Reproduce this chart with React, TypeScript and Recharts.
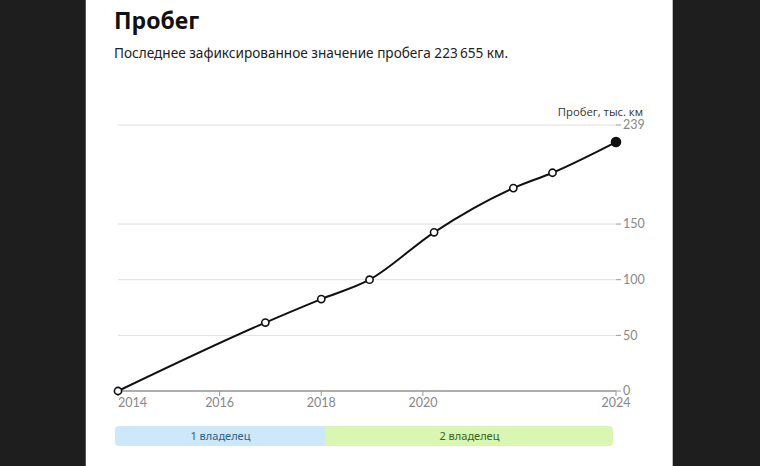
import { LineChart, Line, XAxis, YAxis, CartesianGrid, ReferenceArea, Rectangle } from "recharts";

// mileage history, thousand km, by (fractional) year
const years = [2014.0, 2016.9, 2018.0, 2018.95, 2020.22, 2021.78, 2022.55, 2023.8];
const mileage = [0, 61.5, 82.6, 100, 142.6, 182.3, 196.1, 223.7];

const xTicks = [2014, 2016, 2018, 2020, 2023.8];
const xTickLabels = ["2014", "2016", "2018", "2020", "2024"];
const yTicks = [0, 50, 100, 150, 239];

const owners = ["1 владелец", "2 владелец"];
const ownerFrom = [2014, 2018.15];
const ownerTo = [2018.15, 2023.8];

const OWNER_FILL = ["#cde8fa", "#d9f6b2"];
const OWNER_TEXT = ["#2f5f80", "#35641e"];
const OWNER_RADIUS = [
  [4, 0, 0, 4],
  [0, 4, 4, 0],
];
const TICK_FONT = "Lato, 'Open Sans', sans-serif";
const TEXT_FONT = "'Noto Sans', 'Open Sans', sans-serif";

function YearTick({ x, y, payload }: any) {
  const i = xTicks.indexOf(payload.value);
  return (
    <text
      x={x}
      y={y}
      dy="0.71em"
      textAnchor={i === 0 ? "start" : "middle"}
      fill="#888"
      fontSize={12.5}
      fontFamily={TICK_FONT}
    >
      {xTickLabels[i]}
    </text>
  );
}

function MileageDot({ cx, cy, index }: any) {
  const last = index === years.length - 1;
  return (
    <circle
      key={index}
      cx={cx}
      cy={cy}
      r={last ? 4.5 : 3.6}
      fill={last ? "#111" : "#fff"}
      stroke="#111"
      strokeWidth={1.6}
    />
  );
}

export default function App() {
  const data = years.map((year, i) => ({ year, km: mileage[i] }));
  const ownerRows = owners.map((name, i) => ({ name, from: ownerFrom[i], to: ownerTo[i], v: 0.5 }));

  return (
    <div
      style={{
        position: "fixed",
        left: 0,
        top: 0,
        width: 760,
        height: 466,
        background: "#1e1e1e",
        overflow: "hidden",
      }}
    >
      <div
        style={{
          position: "absolute",
          left: 85,
          top: 0,
          width: 588,
          height: 466,
          background: "#fff",
          borderLeft: "1px solid #555",
          borderRight: "1px solid #bbb",
          boxSizing: "border-box",
        }}
      />
      <div
        style={{
          position: "absolute",
          left: 114,
          top: 9,
          fontFamily: TEXT_FONT,
          fontWeight: 700,
          fontSize: 23,
          lineHeight: 1,
          color: "#111",
        }}
      >
        Пробег
      </div>
      <div
        style={{
          position: "absolute",
          left: 114,
          top: 46,
          fontFamily: TEXT_FONT,
          fontSize: 13.6,
          lineHeight: 1,
          color: "#222",
          whiteSpace: "nowrap",
        }}
      >
        Последнее зафиксированное значение пробега 223{"\u2009"}655{"\u00a0"}км.
      </div>
      <div
        style={{
          position: "absolute",
          right: 117,
          top: 106,
          fontFamily: "'Open Sans', sans-serif",
          fontSize: 11.3,
          lineHeight: 1,
          color: "#333",
          whiteSpace: "nowrap",
        }}
      >
        Пробег, тыс. км
      </div>

      <div style={{ position: "absolute", left: 0, top: 0 }}>
        <LineChart
          width={760}
          height={466}
          data={data}
          margin={{ top: 125, right: 104, bottom: 45, left: 118 }}
        >
          <CartesianGrid vertical={false} stroke="#dedede" />
          <XAxis
            type="number"
            dataKey="year"
            domain={[2014, 2023.8]}
            ticks={xTicks}
            interval={0}
            tick={<YearTick />}
            tickLine={{ stroke: "#999" }}
            axisLine={{ stroke: "#999", strokeWidth: 1.5 }}
            tickSize={5}
            tickMargin={2}
            height={30}
          />
          <YAxis
            orientation="right"
            type="number"
            domain={[0, 239]}
            ticks={yTicks}
            interval={0}
            axisLine={false}
            tickLine={{ stroke: "#999" }}
            tickSize={5}
            tickMargin={2}
            width={40}
            tick={{ fill: "#888", fontSize: 12.5, fontFamily: TICK_FONT }}
          />
          <Line
            type="monotone"
            dataKey="km"
            stroke="#111"
            strokeWidth={2}
            dot={<MileageDot />}
            activeDot={false}
            isAnimationActive={false}
          />
        </LineChart>
      </div>

      <div style={{ position: "absolute", left: 0, top: 426 }}>
        <LineChart
          width={760}
          height={20}
          data={ownerRows}
          margin={{ top: 0, right: 147, bottom: 0, left: 115 }}
        >
          <XAxis
            type="number"
            dataKey="from"
            domain={[2014, 2023.8]}
            allowDataOverflow
            hide
            height={0}
          />
          <YAxis type="number" dataKey="v" domain={[0, 1]} allowDataOverflow hide width={0} />
          {owners.map((name, i) => (
            <ReferenceArea
              key={name}
              x1={ownerFrom[i]}
              x2={ownerTo[i]}
              y1={0}
              y2={1}
              ifOverflow="visible"
              fill={OWNER_FILL[i]}
              fillOpacity={1}
              stroke="none"
              radius={OWNER_RADIUS[i]}
              shape={(p: any) => <Rectangle {...p} radius={OWNER_RADIUS[i]} />}
              label={{
                value: name,
                position: "center",
                fill: OWNER_TEXT[i],
                fontSize: 11,
                fontFamily: TEXT_FONT,
              }}
            />
          ))}
          <Line dataKey="v" stroke="none" dot={false} activeDot={false} isAnimationActive={false} />
        </LineChart>
      </div>
    </div>
  );
}
